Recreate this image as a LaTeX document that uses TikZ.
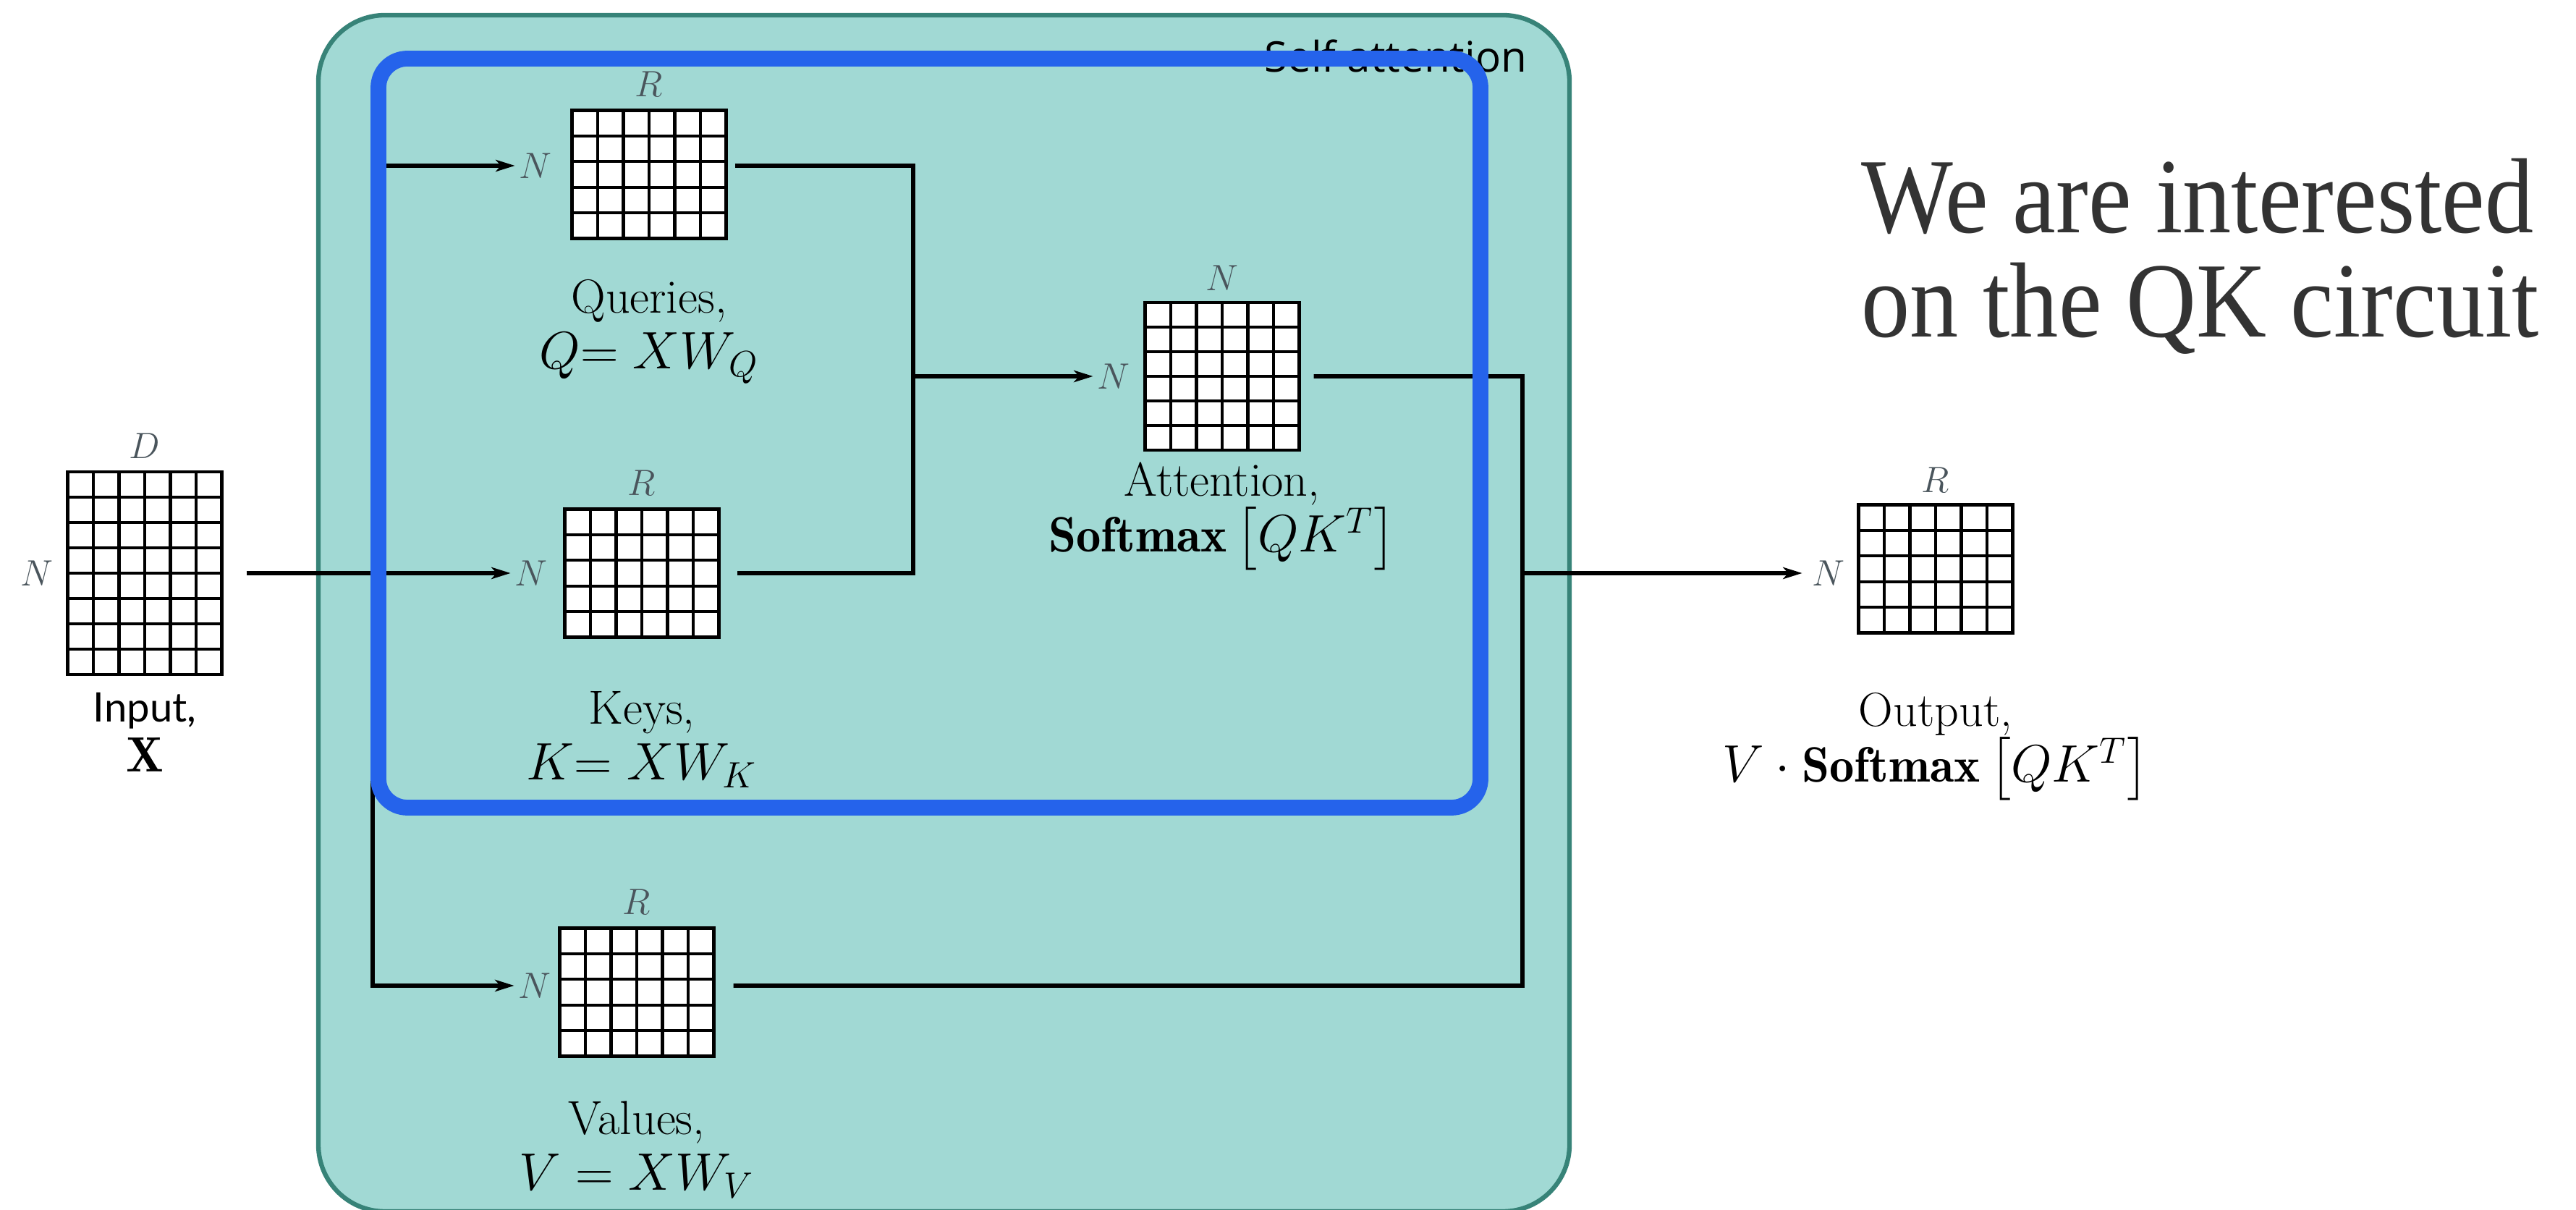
\documentclass[tikz,border=0pt]{standalone}
\usepackage{amsmath}
\usepackage{fontspec}
\usetikzlibrary{positioning}
\usetikzlibrary{calc}
\usetikzlibrary{arrows.meta}

\newfontfamily\panelfont{Open Sans}
\newfontfamily\inputfont{Lato}
\newfontfamily\notefont[FakeStretch=0.91]{Liberation Serif}

\definecolor{panelfill}{RGB}{161,217,212}
\definecolor{paneledge}{RGB}{55,131,120}
\definecolor{qkblue}{RGB}{37,99,235}
\definecolor{labgray}{RGB}{74,85,92}
\definecolor{notegray}{RGB}{51,51,51}

% formula line of a caption, a bit larger than its text line
\newcommand{\capmath}[1]{{\fontsize{19.5}{22}\selectfont$#1$}}

\begin{document}
\begin{tikzpicture}[
    wire/.style={line width=1.6pt},
    conn/.style={wire, -{Stealth[length=7.5pt, width=4.6pt, inset=2pt]}},
    mat/.style={draw, fill=white, line width=1.3pt, inner sep=0pt, outer sep=0pt, minimum width=2.13cm},
    cell/.style={line width=1.2pt},
    dimlab/.style={text=labgray, inner sep=1.5pt, font=\fontsize{14}{16}\selectfont},
    caption/.style={align=center, inner sep=0pt, font=\fontsize{18.8}{22}\selectfont}
  ]
  \useasboundingbox (0,0) rectangle (35.6,16.72);

  % Self attention panel
  \draw[fill=panelfill, draw=paneledge, line width=1.8pt, rounded corners=0.92cm] (4.40,-0.02) rectangle (21.69,16.51);
  \node[font=\panelfont\fontsize{16.6}{20}\selectfont, anchor=base east, inner sep=0pt] (sa) at (21.11,15.72) {Self attention};

  % Matrices
  \node[mat, minimum height=2.8cm] (x) at (2.00,8.80) {};
  \node[mat, minimum height=1.77cm] (q) at (8.97,14.31) {};
  \node[mat, minimum height=1.77cm] (k) at (8.87,8.80) {};
  \node[mat, minimum height=1.77cm] (v) at (8.80,3.01) {};
  \node[mat, minimum height=2.04cm] (att) at (16.89,11.52) {};
  \node[mat, minimum height=1.77cm] (out) at (26.75,8.86) {};

  % Cell lines of every matrix
  \foreach \m/\r in {x/8, q/5, k/5, v/5, att/6, out/5} {
    \pgfmathtruncatemacro\rr{\r-1}
    \foreach \i in {1,...,5}
      \draw[cell] ($(\m.south west)!\i/6!(\m.south east)$) -- ($(\m.north west)!\i/6!(\m.north east)$);
    \foreach \j in {1,...,\rr}
      \draw[cell] ($(\m.south west)!\j/\r!(\m.north west)$) -- ($(\m.south east)!\j/\r!(\m.north east)$);
  }

  % Dimension labels
  \node[dimlab, above=0.13cm of x] (xD) {$D$};
  \node[dimlab, left=0.14cm of x] (xN) {$N$};
  \node[dimlab, above=0.13cm of q] (qR) {$R$};
  \node[dimlab, left=0.22cm of q, yshift=0.12cm] (qN) {$N$};
  \node[dimlab, above=0.13cm of k] (kR) {$R$};
  \node[dimlab, left=0.18cm of k] (kN) {$N$};
  \node[dimlab, above=0.13cm of v] (vR) {$R$};
  \node[dimlab, left=0.06cm of v, yshift=0.09cm] (vN) {$N$};
  \node[dimlab, above=0.11cm of att] (attT) {$N$};
  \node[dimlab, left=0.15cm of att] (attN) {$N$};
  \node[dimlab, above=0.11cm of out] (outR) {$R$};
  \node[dimlab, left=0.13cm of out, yshift=-0.06cm] (outN) {$N$};

  % Captions
  \node[caption, font=\fontsize{16}{19.5}\selectfont, below=0.25cm of x] (xcap) {{\inputfont Input,}\\\capmath{\mathbf{X}}};
  \node[caption, below=0.56cm of q] (qcap) {Queries,\\\capmath{Q{=}\;XW_Q}};
  \node[caption, below=0.74cm of k] (kcap) {Keys,\\\capmath{K{=}\;XW_K}};
  \node[caption, below=0.61cm of v] (vcap) {Values,\\\capmath{V = XW_V}};
  \node[caption, below=0.16cm of att] (attcap) {Attention,\\\capmath{\mathbf{Softmax}\left[QK^T\right]}};
  \node[caption, below=0.82cm of out] (outcap) {Output,\\\capmath{V\cdot\mathbf{Softmax}\left[QK^T\right]}};

  % Junction points
  \coordinate (br) at (5.15,8.80);
  \coordinate (mk) at (12.62,8.80);
  \coordinate (jo) at (21.04,3.10);

  % Connectors
  \draw[conn, shorten <=0.34cm] (x.east |- kN) -- (kN);
  \draw[conn] (br) |- (qN);
  \draw[conn] (br) |- (vN);
  \draw[wire, shorten <=0.12cm, shorten >=0.25cm] (q.east |- qN) -| (mk) -- (k.east |- kN);
  \draw[conn] (mk |- attN) -- (attN);
  \draw[wire, shorten <=0.2cm, shorten >=0.27cm] (att.east |- attN) -| (jo) -- (v.east |- vN);
  \draw[conn, shorten >=0.08cm] (jo |- outN) -- (outN);

  % QK circuit highlight
  \draw[qkblue, line width=6.2pt, rounded corners=0.4cm] (5.23,5.56) rectangle (20.46,15.91);

  % Remark
  \node[font=\notefont\fontsize{42}{41}\selectfont, text=notegray, align=left, anchor=north west, inner sep=0pt] (note) at (25.72,14.54) {We are interested\\on the QK circuit};
\end{tikzpicture}
\end{document}
